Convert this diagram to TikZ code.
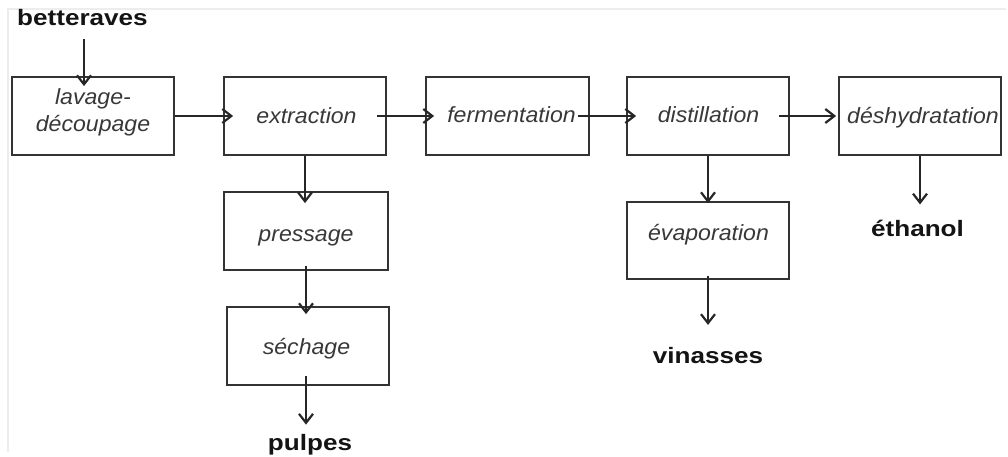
\documentclass[tikz,border=0pt]{standalone}
\usepackage{fontspec}
\usetikzlibrary{arrows.meta,calc}
\newfontfamily\stepfont[FakeStretch=1.05]{Liberation Sans}
\newfontfamily\prodfont[FakeStretch=1.17]{Liberation Sans}
% #1 horizontal offset, #2 baseline drop, #3 text
\newcommand\boxtext[3]{\makebox[0pt]{\kern#1\kern#1\raisebox{-#2}[0pt][0pt]{#3}}}
\tikzset{
  stepbox/.style={draw=black!80, line width=1.8pt, minimum width=162pt,
    minimum height=78pt, inner sep=0pt, text=black!78,
    font=\stepfont\itshape\fontsize{22}{26.7}\selectfont},
  prod/.style={inner sep=0pt, anchor=base, text=black!92,
    font=\prodfont\bfseries\fontsize{22.3}{26}\selectfont},
  flow/.style={draw=black!85, line width=1.8pt,
    -{Straight Barb[length=9pt,width=14pt,line width=2.2pt]}},
  frameline/.style={draw=black!7, line width=1.5pt},
}
\begin{document}
\begin{tikzpicture}[x=1pt,y=-1pt]
\useasboundingbox (0,0) rectangle (1008,457);
\draw[frameline] (8,452) -- (8,9) -- (1006,9);

% process steps
\node[stepbox] (lav) at (93,116)
  {\boxtext{0pt}{15.7pt}{\begin{tabular}[b]{@{}c@{}}lavage-\\découpage\end{tabular}}};
\node[stepbox] (ext) at (305,116) {\boxtext{1.5pt}{8pt}{extraction}};
\node[stepbox, minimum width=163pt] (fer) at (507.5,116) {\boxtext{4pt}{6.3pt}{fermentation}};
\node[stepbox] (dis) at (708,116) {\boxtext{0.5pt}{7pt}{distillation}};
\node[stepbox] (des) at (920,116) {\boxtext{3pt}{7.3pt}{déshydratation}};
\node[stepbox, minimum width=164pt] (pre) at (306,231) {\boxtext{0pt}{10.7pt}{pressage}};
\node[stepbox] (sec) at (308,346) {\boxtext{-1.5pt}{8pt}{séchage}};
\node[stepbox, minimum height=77pt] (eva) at (708,240.5) {\boxtext{0.5pt}{0.2pt}{évaporation}};

% inputs and products
\node[prod] (bet) at (82.5,26) {betteraves};
\node[prod] (eth) at (917.5,236.7) {éthanol};
\node[prod] (vin) at (708,363.3) {vinasses};
\node[prod] (pul) at (310,450) {pulpes};

% main line
\draw[flow, shorten >=-10pt] ([xshift=1.5pt,yshift=-13pt]bet.base) -- ([xshift=1.5pt]bet.base |- lav.north);
\draw[flow, shorten >=-10pt] (lav.east) -- (ext.west);
\draw[flow, shorten <=-10pt, shorten >=-9pt] (ext.east) -- (ext.east -| fer.west);
\draw[flow, shorten <=-12pt, shorten >=-10pt] (fer.east) -- (dis.west);
\draw[flow, shorten <=-11pt, shorten >=2pt] (dis.east) -- (des.west);

% pulp branch
\draw[flow, shorten >=-12pt] (ext.south) -- (ext.south |- pre.north);
\draw[flow, shorten <=-5pt, shorten >=-8pt] (pre.south) -- (pre.south |- sec.north);
\draw[flow, shorten <=-10pt, shorten >=9pt] (pre.south |- sec.south) -- (pre.south |- pul.north);

% vinasse branch
\draw[flow, shorten >=-2pt] (dis.south) -- (dis.south |- eva.north);
\draw[flow, shorten <=-4pt, shorten >=22pt] (eva.south) -- (eva.south |- vin.north);

% ethanol
\draw[flow, shorten >=15.7pt] (des.south) -- (des.south |- eth.north);
\end{tikzpicture}
\end{document}
